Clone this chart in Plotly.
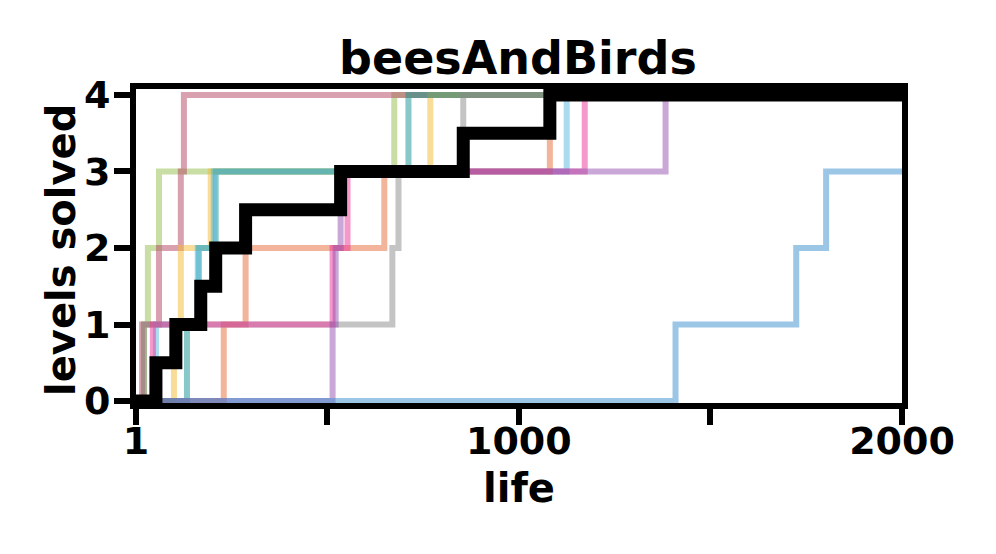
import plotly.graph_objects as go

# level-up points for each run (life, levels solved)
run_names = ['run0', 'run1', 'run2', 'run3', 'run4', 'run5', 'run6', 'run7', 'run8', 'run9']
run_x = [
    [1, 22, 32, 61, 675, 2000],
    [1, 17, 61, 118, 126, 2000],
    [1, 100, 118, 196, 769, 2000],
    [1, 134, 165, 209, 712, 2000],
    [1, 53, 162, 204, 1125, 2000],
    [1, 230, 287, 649, 1081, 2000],
    [1, 22, 670, 686, 855, 2000],
    [1, 45, 514, 553, 1172, 2000],
    [1, 514, 522, 535, 1383, 2000],
    [1, 1409, 1724, 1802, 2000],
]
run_y = [
    [0, 1, 2, 3, 4, 4],
    [0, 1, 2, 3, 4, 4],
    [0, 1, 2, 3, 4, 4],
    [0, 1, 2, 3, 4, 4],
    [0, 1, 2, 3, 4, 4],
    [0, 1, 2, 3, 4, 4],
    [0, 1, 2, 3, 4, 4],
    [0, 1, 2, 3, 4, 4],
    [0, 1, 2, 3, 4, 4],
    [0, 1, 2, 3, 3],
]
run_colors = [
    'rgba(147,189,73,0.5)',
    'rgba(179,65,97,0.5)',
    'rgba(241,185,49,0.5)',
    'rgba(17,145,145,0.5)',
    'rgba(85,185,225,0.5)',
    'rgba(229,105,53,0.5)',
    'rgba(137,137,137,0.5)',
    'rgba(235,49,153,0.5)',
    'rgba(147,79,173,0.5)',
    'rgba(57,141,205,0.5)',
]

# median curve
median_x = [1, 53, 105, 170, 209, 287, 535, 855, 1081, 2000]
median_y = [0, 0.5, 1, 1.5, 2, 2.5, 3, 3.5, 4, 4]

x_ticks = [1, 500, 1000, 1500, 2000]
x_ticklabels = ['1', '', '1000', '', '2000']
y_ticks = [0, 1, 2, 3, 4]

font_fam = 'DejaVu Sans'

fig = go.Figure()
for name, xs, ys, col in zip(run_names, run_x, run_y, run_colors):
    fig.add_trace(go.Scatter(x=xs, y=ys, mode='lines', name=name,
                             line=dict(color=col, width=6, shape='hv')))

fig.add_trace(go.Scatter(x=median_x, y=median_y, mode='lines', name='median',
                         line=dict(color='black', width=13, shape='hv')))

axis_common = dict(
    showline=True, linecolor='black', linewidth=6, mirror=True,
    ticks='outside', ticklen=16, tickwidth=6, tickcolor='black',
    showgrid=False, zeroline=False,
    tickfont=dict(family=font_fam, size=38, color='black', weight='bold'),
)

fig.update_layout(
    width=996, height=554,
    margin=dict(l=128, r=102, t=81, b=159),
    plot_bgcolor='white', paper_bgcolor='white',
    showlegend=False,
    title=dict(text='<b>beesAndBirds</b>', x=0.512, xanchor='center',
               y=1 - 50 / 554, yanchor='middle',
               font=dict(family=font_fam, size=46, color='black')),
    xaxis=dict(range=[1, 2000], tickvals=x_ticks, ticktext=x_ticklabels,
               ticklabelstandoff=-17, **axis_common),
    yaxis=dict(range=[-0.026, 4.078], tickvals=y_ticks,
               ticklabelstandoff=-4, **axis_common),
    annotations=[
        dict(text='<b>life</b>', xref='paper', yref='paper', x=0.5, y=-0.271,
             xanchor='center', yanchor='middle', showarrow=False,
             font=dict(family=font_fam, size=40, color='black')),
        dict(text='<b>levels solved</b>', xref='paper', yref='paper', x=-0.098, y=0.487,
             xanchor='center', yanchor='middle', showarrow=False, textangle=-90,
             font=dict(family=font_fam, size=40, color='black')),
    ],
)

fig.write_html("out.html")
